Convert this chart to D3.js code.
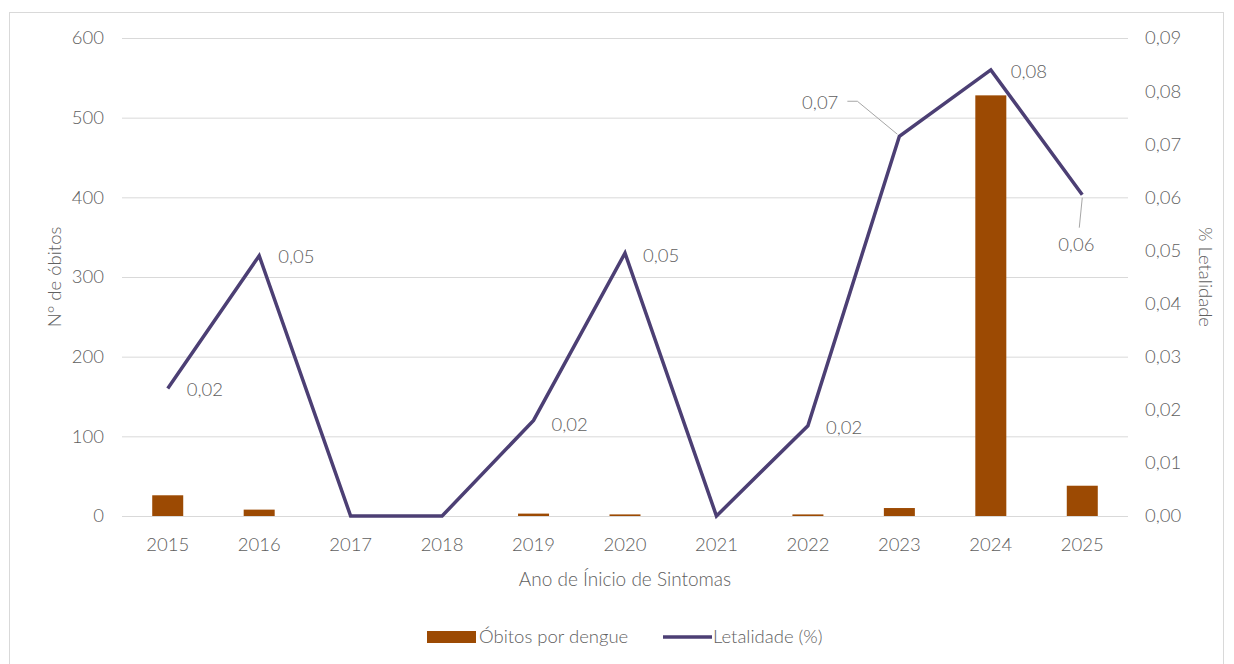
<!DOCTYPE html>
<html><head><meta charset="utf-8">
<script src="https://cdn.jsdelivr.net/npm/d3@7"></script>
<style>
body{margin:0;background:#fff;}
text{font-family:Lato,"Open Sans",sans-serif;fill:#606060;font-weight:300;}
</style></head>
<body>
<svg id="c" width="1234" height="664"></svg>
<script>
const years = ["2015","2016","2017","2018","2019","2020","2021","2022","2023","2024","2025"];
const obitos = [26, 8, 0, 0, 3, 2, 0, 2, 10, 528, 38];
const letalidade = [0.024, 0.049, 0, 0, 0.018, 0.0495, 0, 0.017, 0.0715, 0.084, 0.0605];
const letLabels = ["0,02","0,05",null,null,"0,02","0,05",null,"0,02","0,07","0,08","0,06"];
const leftTicks = [0,100,200,300,400,500,600];
const rightTicks = [0,0.01,0.02,0.03,0.04,0.05,0.06,0.07,0.08,0.09];

const svg = d3.select("#c");
const m = {l:122, r:1128, t:38, b:516};
const FS = 18.5;
const TXT = "#606060";

svg.append("rect").attr("x",9.5).attr("y",12.5).attr("width",1214).attr("height",670)
  .attr("fill","#fff").attr("stroke","#d9d9d9");

const x = d3.scaleBand().domain(years).range([m.l,m.r]).paddingInner(0.5).paddingOuter(0.25);
const yL = d3.scaleLinear().domain([0,600]).range([m.b,m.t]);
const yR = d3.scaleLinear().domain([0,0.09]).range([m.b,m.t]);

// gridlines
svg.append("g").selectAll("line").data(leftTicks).join("line")
  .attr("x1",m.l).attr("x2",m.r).attr("y1",d=>yL(d)+0.5).attr("y2",d=>yL(d)+0.5)
  .attr("stroke","#d9d9d9").attr("stroke-width",1);

function styleAxis(g){
  g.select(".domain").remove();
  g.selectAll("text").attr("font-size",FS).style("fill",TXT).style("font-family","Lato,sans-serif").style("font-weight",300);
}
const gl = svg.append("g").attr("transform",`translate(${m.l-18},0)`)
  .call(d3.axisLeft(yL).tickValues(leftTicks).tickSize(0).tickPadding(0));
styleAxis(gl);

const gr = svg.append("g").attr("transform",`translate(${m.r+17},0)`)
  .call(d3.axisRight(yR).tickValues(rightTicks).tickSize(0).tickPadding(0).tickFormat(d=>d3.format(".2f")(d).replace(".",",")));
styleAxis(gr);

const gx = svg.append("g").attr("transform",`translate(0,${m.b})`)
  .call(d3.axisBottom(x).tickSize(0));
styleAxis(gx);
gx.selectAll("text").attr("y",29).attr("dy","0.35em");

// bars
const bw = 31;
svg.append("g").selectAll("rect").data(years).join("rect")
  .attr("x",d=>x(d)+x.bandwidth()/2-bw/2).attr("width",bw)
  .attr("y",(d,i)=>yL(obitos[i])).attr("height",(d,i)=>m.b-yL(obitos[i]))
  .attr("fill","#9c4a03");

// line
const cx = d=>x(d)+x.bandwidth()/2;
const line = d3.line().x((d,i)=>cx(years[i])).y(d=>yR(d));
svg.append("path").datum(letalidade).attr("d",line)
  .attr("fill","none").attr("stroke","#4c3f74").attr("stroke-width",3.5).attr("stroke-linejoin","miter");

// data labels
const offs = {0:[19,1,"start"],1:[19,1,"start"],4:[18,4,"start"],5:[18,2,"start"],7:[18,2,"start"],
  8:[-61,-34,"end"],9:[20,2,"start"],10:[-6,50,"middle"]};
letLabels.forEach((t,i)=>{
  if(!t) return;
  const px=cx(years[i]), py=yR(letalidade[i]);
  const o=offs[i];
  svg.append("text").attr("x",px+o[0]).attr("y",py+o[1]).attr("dy","0.35em")
    .attr("text-anchor",o[2]).attr("font-size",FS).text(t);
});
const p8=[cx(years[8]),yR(letalidade[8])];
svg.append("path").attr("d",`M${p8[0]-2},${p8[1]-2} L${p8[0]-42},${p8[1]-35} L${p8[0]-52},${p8[1]-35}`)
  .attr("fill","none").attr("stroke","#a6a6a6").attr("stroke-width",1);
const p10=[cx(years[10]),yR(letalidade[10])];
svg.append("path").attr("d",`M${p10[0]},${p10[1]+3} L${p10[0]-3},${p10[1]+33}`)
  .attr("fill","none").attr("stroke","#a6a6a6").attr("stroke-width",1);

// axis titles
svg.append("text").attr("transform",`translate(55,${(m.t+m.b)/2}) rotate(-90)`)
  .attr("text-anchor","middle").attr("dy","0.35em").attr("font-size",FS).text("N° de óbitos");
svg.append("text").attr("transform",`translate(1205,${(m.t+m.b)/2}) rotate(90)`)
  .attr("text-anchor","middle").attr("dy","0.35em").attr("font-size",FS).text("% Letalidade");
svg.append("text").attr("x",(m.l+m.r)/2).attr("y",579).attr("dy","0.35em")
  .attr("text-anchor","middle").attr("font-size",FS+0.5).text("Ano de Ínicio de Sintomas");

// legend
const lg = svg.append("g");
lg.append("rect").attr("x",427).attr("y",631).attr("width",49).attr("height",12).attr("fill","#9c4a03");
lg.append("text").attr("x",479).attr("y",637).attr("dy","0.35em").attr("font-size",FS).text("Óbitos por dengue");
lg.append("line").attr("x1",663).attr("x2",712).attr("y1",637).attr("y2",637).attr("stroke","#4c3f74").attr("stroke-width",3.5);
lg.append("text").attr("x",713).attr("y",637).attr("dy","0.35em").attr("font-size",FS).text("Letalidade (%)");
</script>
</body></html>
